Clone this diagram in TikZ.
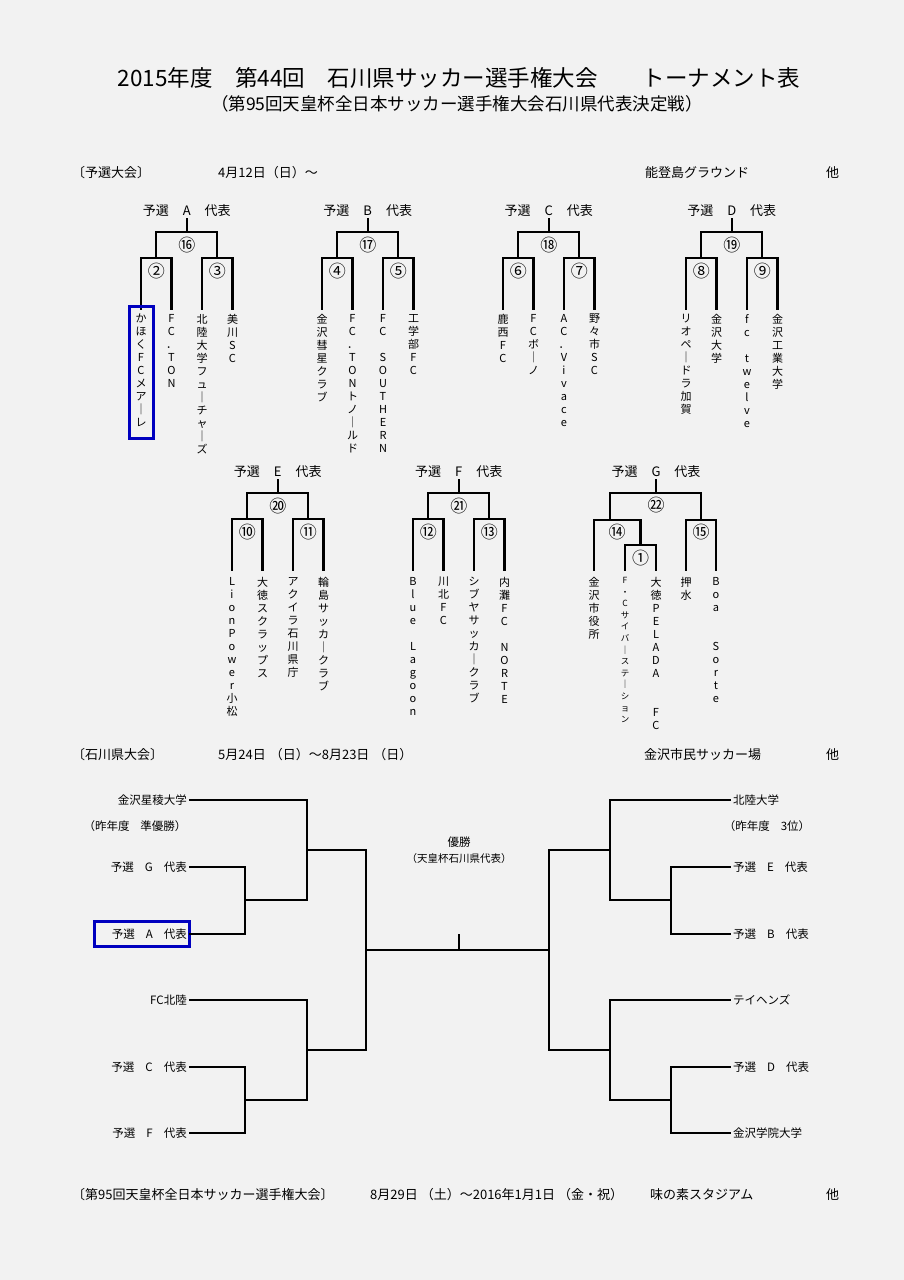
\documentclass[tikz,border=0pt]{standalone}
\usepackage{fontspec}
\setmainfont{Noto Sans CJK JP}
\def\vtloop#1{\ifx\relax#1\else\hbox to 1em{\hss#1\hss}\expandafter\vtloop\fi}
\newcommand\vt[1]{\vbox{\baselineskip=13pt\lineskiplimit=-20pt\lineskip=0pt\vtloop#1\relax}}
\newcommand\vts[1]{\vbox{\baselineskip=11.6pt\lineskiplimit=-20pt\lineskip=0pt\vtloop#1\relax}}
\tikzset{
 br/.style={line width=2.3pt,line join=miter,line cap=rect},
 bb/.style={line width=1.9pt,line join=miter,line cap=rect},
 lab/.style={font=\fontsize{13}{15}\selectfont,inner sep=0pt},
 circ/.style={font=\fontsize{17}{18}\selectfont,inner sep=0pt},
 leaf/.style={anchor=north,inner sep=0pt,font=\fontsize{11}{13}\selectfont},
 hd/.style={font=\fontsize{13}{15}\selectfont,inner sep=0pt},
 tl/.style={font=\fontsize{11.5}{14}\selectfont,inner sep=0pt},
 boxb/.style={draw=blue!75!black,line width=3pt}
}
\newcommand\gsp{\hspace{14pt}}
\newcommand\grp[7]{%
 \pgfmathsetmacro\xa{#1}\pgfmathsetmacro\xb{#1+30.5}\pgfmathsetmacro\xc{#1+61}\pgfmathsetmacro\xd{#1+91.5}%
 \pgfmathsetmacro\ml{#1+15.25}\pgfmathsetmacro\mr{#1+76.25}\pgfmathsetmacro\rt{#1+45.75}%
 \node[lab] (#7lab) at (\rt,#2) {予選\gsp #3\gsp 代表};
 \draw[br] (\rt,#2+8) -- (\rt,#2+21);
 \draw[br] (\ml,#2+47) -- (\ml,#2+21) -- (\mr,#2+21) -- (\mr,#2+47);
 \draw[br] (\xa,#2+98) -- (\xa,#2+47) -- (\xb,#2+47) -- (\xb,#2+98);
 \draw[br] (\xc,#2+98) -- (\xc,#2+47) -- (\xd,#2+47) -- (\xd,#2+98);
 \node[circ] (#7c0) at (\rt,#2+34) {#4};
 \node[circ] (#7c1) at (\ml,#2+60) {#5};
 \node[circ] (#7c2) at (\mr,#2+60) {#6};
}
\begin{document}
\begin{tikzpicture}[x=1pt,y=-1pt]
\fill[white!95!black] (0,0) rectangle (904,1280);
\useasboundingbox (0,0) rectangle (904,1280);
% titles
\node[font=\fontsize{22.5}{24}\selectfont,inner sep=0pt] (title) at (459,78) {2015年度　第44回　石川県サッカー選手権大会　　トーナメント表};
\node[font=\fontsize{17.5}{20}\selectfont,inner sep=0pt] (sub) at (457,104) {（第95回天皇杯全日本サッカー選手権大会石川県代表決定戦）};
% header 1
\node[hd,anchor=west] (h1) at (72,173) {〔予選大会〕};
\node[hd,anchor=west] (h2) at (218,173) {4月12日（日）～};
\node[hd,anchor=west] (h3) at (645,173) {能登島グラウンド};
\node[hd,anchor=west] (h4) at (826,173) {他};
% row 1 groups
\grp{141}{211}{A}{⑯}{②}{③}{ga}
\grp{322}{211}{B}{⑰}{④}{⑤}{gb}
\grp{503}{211}{C}{⑱}{⑥}{⑦}{gc}
\grp{686}{211}{D}{⑲}{⑧}{⑨}{gd}
\def\ty{314}
\node[leaf] (a1) at (141,\ty) {\vt{かほくFCメア｜レ}};
\node[leaf] (a2) at (171.5,\ty) {\vt{FC．TON}};
\node[leaf] (a3) at (202,\ty) {\vt{北陸大学フュ｜チャ｜ズ}};
\node[leaf] (a4) at (232.5,\ty) {\vt{美川SC}};
\draw[boxb] (129,306) rectangle (153,438);
\node[leaf] (b1) at (322,\ty) {\vt{金沢彗星クラブ}};
\node[leaf] (b2) at (352.5,\ty) {\vt{FC．TONトノ｜ルド}};
\node[leaf] (b3) at (383,\ty) {\vt{FC~SOUTHERN}};
\node[leaf] (b4) at (413.5,\ty) {\vt{工学部FC}};
\node[leaf] (c1) at (503,\ty) {\vt{鹿西FC}};
\node[leaf] (c2) at (533.5,\ty) {\vt{FCボ｜ノ}};
\node[leaf] (c3) at (564,\ty) {\vt{AC．Vivace}};
\node[leaf] (c4) at (594.5,\ty) {\vt{野々市SC}};
\node[leaf] (d1) at (686,\ty) {\vt{リオペ｜ドラ加賀}};
\node[leaf] (d2) at (716.5,\ty) {\vt{金沢大学}};
\node[leaf] (d3) at (747,\ty) {\vt{fc~twelve}};
\node[leaf] (d4) at (777.5,\ty) {\vt{金沢工業大学}};
% row 2
\grp{232}{472}{E}{⑳}{⑩}{⑪}{ge}
\grp{413}{472}{F}{㉑}{⑫}{⑬}{gf}
\def\tz{577}
\node[leaf] (e1) at (232,\tz) {\vt{LionPower小松}};
\node[leaf] (e2) at (262.5,\tz) {\vt{大徳スクラップス}};
\node[leaf] (e3) at (293,\tz) {\vt{アクイラ石川県庁}};
\node[leaf] (e4) at (323.5,\tz) {\vt{輪島サッカ｜クラブ}};
\node[leaf] (f1) at (413,\tz) {\vt{Blue~Lagoon}};
\node[leaf] (f2) at (443.5,\tz) {\vt{川北FC}};
\node[leaf] (f3) at (474,\tz) {\vt{シブヤサッカ｜クラブ}};
\node[leaf] (f4) at (504.5,\tz) {\vt{内灘FC~NORTE}};
% group G
\node[lab] (gglab) at (656,472) {予選\gsp G\gsp 代表};
\draw[br] (656,480) -- (656,493);
\draw[br] (610,520) -- (610,493) -- (701,493) -- (701,520);
\draw[br] (594,570) -- (594,520) -- (640.5,520) -- (640.5,545);
\draw[br] (625,570) -- (625,545) -- (656,545) -- (656,570);
\draw[br] (686,570) -- (686,520) -- (716,520) -- (716,570);
\node[circ] (ggc0) at (656,505) {㉒};
\node[circ] (ggc1) at (617,532) {⑭};
\node[circ] (ggc2) at (701,532) {⑮};
\node[circ] (ggc3) at (640.5,558) {①};
\node[leaf] (g1) at (594,\tz) {\vt{金沢市役所}};
\node[leaf,font=\fontsize{8.5}{11}\selectfont] (g2) at (625,\tz) {\vts{F・Cサイバ｜ステ｜ション}};
\node[leaf] (g3) at (656,\tz) {\vt{大徳PELADA~~FC}};
\node[leaf] (g4) at (686,\tz) {\vt{押水}};
\node[leaf] (g5) at (716,\tz) {\vt{Boa~~Sorte}};
% header 2
\node[hd,anchor=west] (k1) at (72,755) {〔石川県大会〕};
\node[hd,anchor=west] (k2) at (218,755) {5月24日\hspace{4pt}（日）～8月23日\hspace{4pt}（日）};
\node[hd,anchor=west] (k3) at (644,755) {金沢市民サッカー場};
\node[hd,anchor=west] (k4) at (826,755) {他};
% bottom bracket left
\def\sq{\hspace{11pt}}
\node[tl,anchor=east] (l1) at (187,800) {金沢星稜大学};
\node[tl] (l1n) at (135,826) {（昨年度\sq 準優勝）};
\node[tl,anchor=east] (l2) at (187,867) {予選\sq G\sq 代表};
\node[tl,anchor=east] (l3) at (187,934) {予選\sq A\sq 代表};
\draw[boxb] (94,921) rectangle (189,946);
\node[tl,anchor=east] (l4) at (187,1000) {FC北陸};
\node[tl,anchor=east] (l5) at (187,1067) {予選\sq C\sq 代表};
\node[tl,anchor=east] (l6) at (187,1133) {予選\sq F\sq 代表};
\draw[bb] (190,800) -- (307,800) -- (307,900) -- (245,900);
\draw[bb] (190,867) -- (245,867) -- (245,934) -- (190,934);
\draw[bb] (307,850) -- (366,850);
\draw[bb] (190,1000) -- (307,1000) -- (307,1100) -- (245,1100);
\draw[bb] (190,1067) -- (245,1067) -- (245,1133) -- (190,1133);
\draw[bb] (307,1050) -- (366,1050) -- (366,850);
\draw[bb] (366,950) -- (549,950);
\draw[bb] (459,950) -- (459,935);
\node[tl] (win) at (459,842) {優勝};
\node[font=\fontsize{10.5}{12}\selectfont,inner sep=0pt] (win2) at (459,858) {（天皇杯石川県代表）};
% right
\node[tl,anchor=west] (r1) at (733,800) {北陸大学};
\node[tl] (r1n) at (767,826) {（昨年度\sq 3位）};
\node[tl,anchor=west] (r2) at (733,867) {予選\sq E\sq 代表};
\node[tl,anchor=west] (r3) at (733,934) {予選\sq B\sq 代表};
\node[tl,anchor=west] (r4) at (733,1000) {テイヘンズ};
\node[tl,anchor=west] (r5) at (733,1067) {予選\sq D\sq 代表};
\node[tl,anchor=west] (r6) at (733,1133) {金沢学院大学};
\draw[bb] (730,800) -- (610,800) -- (610,900) -- (671,900);
\draw[bb] (730,867) -- (671,867) -- (671,934) -- (730,934);
\draw[bb] (610,850) -- (549,850);
\draw[bb] (730,1000) -- (610,1000) -- (610,1100) -- (671,1100);
\draw[bb] (730,1067) -- (671,1067) -- (671,1133) -- (730,1133);
\draw[bb] (610,1050) -- (549,1050) -- (549,850);
% footer
\node[hd,anchor=west] (m1) at (72,1195) {〔第95回天皇杯全日本サッカー選手権大会〕};
\node[hd,anchor=west] (m2) at (370,1195) {8月29日\hspace{3pt}（土）～2016年1月1日\hspace{3pt}（金・祝）};
\node[hd,anchor=west] (m3) at (650,1195) {味の素スタジアム};
\node[hd,anchor=west] (m4) at (826,1195) {他};
\end{tikzpicture}
\end{document}
